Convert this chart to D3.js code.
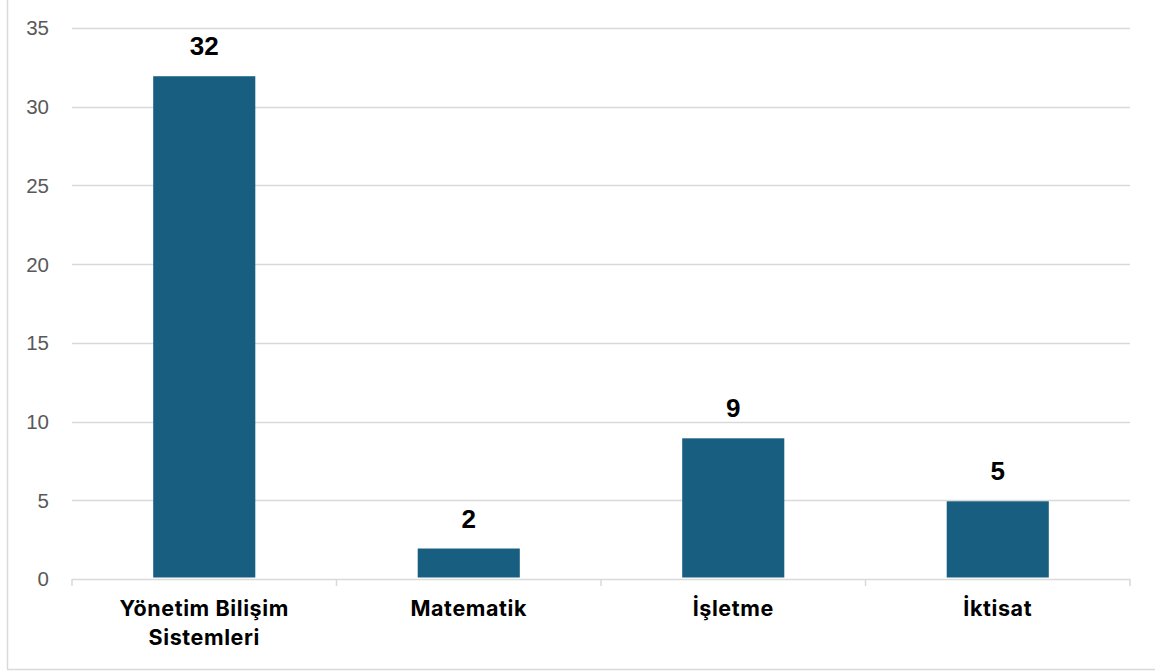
<!DOCTYPE html>
<html><head><meta charset="utf-8">
<script src="https://cdn.jsdelivr.net/npm/d3@7/dist/d3.min.js"></script>
<style>body{margin:0;background:#fff;}svg{display:block;}</style>
</head><body>
<svg id="c" width="1155" height="672"></svg>
<script>
const categories = [["Yönetim Bilişim","Sistemleri"],["Matematik"],["İşletme"],["İktisat"]];
const values = [32, 2, 9, 5];
const yTicks = [0,5,10,15,20,25,30,35];

const svg = d3.select("#c");
const m = {left:72, right:1130, top:28, bottom:579};

// frame
svg.append("line").attr("x1",7.5).attr("x2",7.5).attr("y1",0).attr("y2",669.5).attr("stroke","#d9d9d9").attr("stroke-width",1.5);
svg.append("line").attr("x1",7).attr("x2",1155).attr("y1",669.5).attr("y2",669.5).attr("stroke","#d9d9d9").attr("stroke-width",1.5);

const x = d3.scaleBand().domain(d3.range(categories.length)).range([m.left, m.right]).paddingInner(0.614).paddingOuter(0.307);
const y = d3.scaleLinear().domain([0,35]).range([m.bottom, m.top]);

// gridlines
svg.append("g").selectAll("line").data(yTicks.filter(t=>t>0)).join("line")
  .attr("x1",m.left).attr("x2",m.right).attr("y1",d=>Math.round(y(d))+0.5).attr("y2",d=>Math.round(y(d))+0.5)
  .attr("stroke","#d9d9d9").attr("stroke-width",1.5);

// y labels
svg.append("g").selectAll("text").data(yTicks).join("text")
  .attr("x",49).attr("y",d=>y(d)).attr("dy","0.36em").attr("text-anchor","end")
  .attr("font-family","Liberation Sans, Arial, sans-serif").attr("font-size",20.5).attr("fill","#595959")
  .text(d=>d);

// bars
svg.append("g").selectAll("rect").data(values).join("rect")
  .attr("x",(d,i)=>x(i)).attr("width",x.bandwidth())
  .attr("y",d=>y(d)+1).attr("height",d=>y(0)-y(d)-2.5)
  .attr("fill","#175E80");

// x axis line and ticks
const step = (m.right-m.left)/categories.length;
svg.append("line").attr("x1",m.left).attr("x2",m.right).attr("y1",y(0)+0.5).attr("y2",y(0)+0.5).attr("stroke","#d9d9d9").attr("stroke-width",1.5);
svg.append("g").selectAll("line").data(d3.range(categories.length+1)).join("line")
  .attr("x1",i=>m.left+i*step).attr("x2",i=>m.left+i*step).attr("y1",y(0)).attr("y2",y(0)+7)
  .attr("stroke","#d9d9d9").attr("stroke-width",1.5);

// data labels
svg.append("g").selectAll("text").data(values).join("text")
  .attr("x",(d,i)=>x(i)+x.bandwidth()/2).attr("y",d=>y(d)-20)
  .attr("text-anchor","middle").attr("font-family","Liberation Sans, Arial, sans-serif")
  .attr("font-weight","bold").attr("font-size",26).attr("fill","#000")
  .text(d=>d);

// category labels
const cl = svg.append("g").selectAll("text").data(categories).join("text")
  .attr("x",(d,i)=>x(i)+x.bandwidth()/2).attr("y",616)
  .attr("text-anchor","middle").attr("font-family","Inter, sans-serif")
  .attr("font-weight","700").attr("font-size",21.5).attr("letter-spacing",0.6).attr("fill","#000");
cl.selectAll("tspan").data(d=>d).join("tspan")
  .attr("x",function(){return this.parentNode.getAttribute("x");})
  .attr("dy",(d,i)=>i===0?0:29).text(d=>d);
</script>
</body></html>
